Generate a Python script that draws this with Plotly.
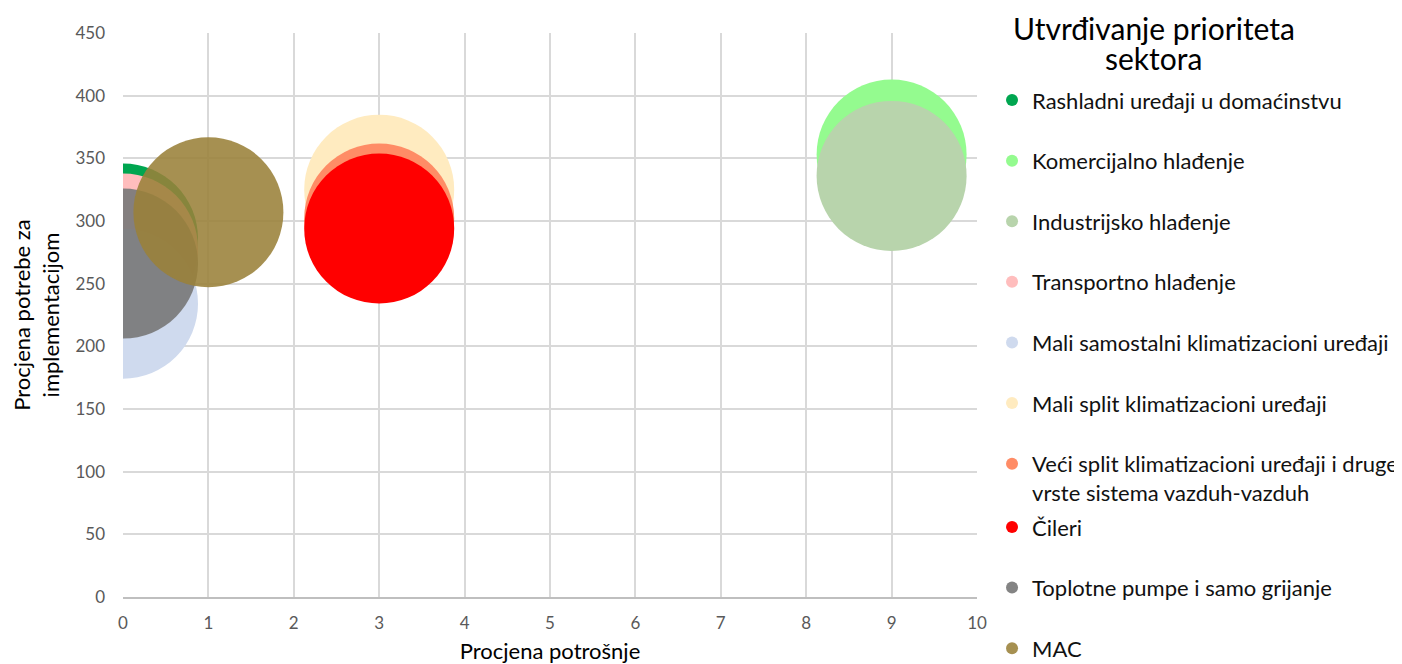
import plotly.graph_objects as go

sectors = [
    "Rashladni uređaji u domaćinstvu",
    "Komercijalno hlađenje",
    "Industrijsko hlađenje",
    "Transportno hlađenje",
    "Mali samostalni klimatizacioni uređaji",
    "Mali split klimatizacioni uređaji",
    "Veći split klimatizacioni uređaji i druge<br>vrste sistema vazduh-vazduh",
    "Čileri",
    "Toplotne pumpe i samo grijanje",
    "MAC",
]
potrosnja = [0, 9, 9, 0, 0, 3, 3, 3, 0, 1]
implementacija = [286, 353, 336, 278, 234, 325, 302, 294, 266, 307]
velicina = [150, 150, 150, 150, 150, 150, 150, 150, 150, 150]

colors = ["#00A650", "#94FB8F", "#B8D4AC", "#FFBDBD", "#CFDAEE",
          "#FFEBC0", "#FF8C66", "#FF0000", "#7A7A7A", "#9A8139"]
opac = [1, 1, 1, 1, 1, 1, 1, 1, 0.92, 0.88]

x_ticks = list(range(0, 11))
y_ticks = list(range(0, 451, 50))

legend_title = ["Utvrđivanje prioriteta", "sektora"]

FONT = "Lato, 'Open Sans', sans-serif"

fig = go.Figure()
for i, name in enumerate(sectors):
    fig.add_trace(go.Scatter(
        x=[potrosnja[i]], y=[implementacija[i]],
        mode="markers", name=name, legendgroup=f"g{i}",
        legend="legend" if i < 7 else "legend2",
        marker=dict(size=[velicina[i]], sizemode="diameter", color=colors[i],
                    opacity=opac[i], line=dict(width=0)),
        cliponaxis=True,
    ))

for line_text, ypos in zip(legend_title, [1.0089, 0.9557]):
    fig.add_annotation(
        text=line_text, xref="paper", yref="paper",
        x=1.207, y=ypos, xanchor="center", yanchor="middle",
        align="center", showarrow=False,
        font=dict(size=30, color="#000000", family=FONT),
    )

legend_common = dict(
    x=1.0176, xanchor="left", yanchor="top",
    font=dict(size=22, color="#111111"),
    itemsizing="constant", tracegroupgap=29, valign="top",
    bgcolor="rgba(0,0,0,0)", maxheight=1000,
)

fig.update_layout(
    width=1394, height=656,
    margin=dict(l=115, r=425, t=25, b=67, autoexpand=False),
    paper_bgcolor="white", plot_bgcolor="white",
    font=dict(family=FONT, color="#000000"),
    showlegend=True,
    legend=dict(y=0.918, **legend_common),
    legend2=dict(y=0.161, **legend_common),
    xaxis=dict(
        range=[0, 10], tickvals=x_ticks, ticktext=[str(v) for v in x_ticks],
        showgrid=True, gridcolor="#D9D9D9", gridwidth=1.5,
        zeroline=False, showline=True, linecolor="#BFBFBF", linewidth=1.5,
        tickfont=dict(size=17, color="#595959"), ticks="", ticklabelstandoff=10,
        automargin=False,
        title=dict(text="Procjena potrošnje", font=dict(size=22, color="#000000"), standoff=17),
    ),
    yaxis=dict(
        range=[0, 450], tickvals=y_ticks, ticktext=[str(v) for v in y_ticks],
        showgrid=True, gridcolor="#D9D9D9", gridwidth=1.5,
        zeroline=False, showline=False,
        tickfont=dict(size=17, color="#595959"), ticks="", ticklabelstandoff=17,
        automargin=False,
        title=dict(text="Procjena potrebe za<br>implementacijom", font=dict(size=22, color="#000000"), standoff=20),
    ),
)

fig.write_html("out.html")
